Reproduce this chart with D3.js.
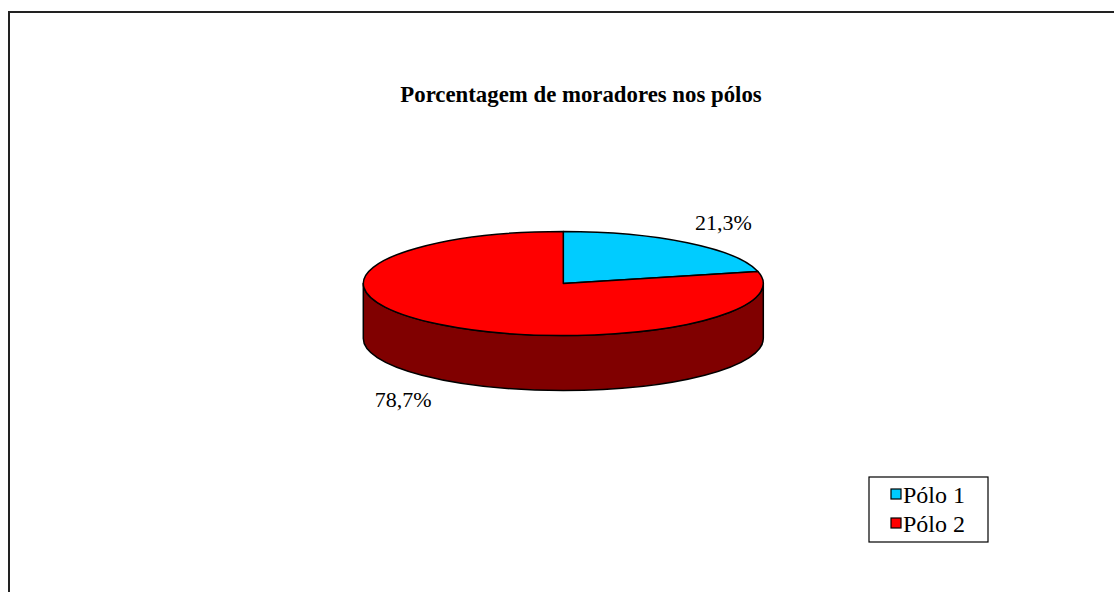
<!DOCTYPE html>
<html>
<head>
<meta charset="utf-8">
<script src="https://cdn.jsdelivr.net/npm/d3@7"></script>
<style>
  html, body { margin: 0; padding: 0; background: #fff; }
  svg { display: block; }
</style>
</head>
<body>
<script>
// dados do grafico
var categorias = ["Pólo 1", "Pólo 2"];
var valores = [21.3, 78.7];
var rotulos = ["21,3%", "78,7%"];
var cores = ["#00CCFF", "#FF0000"];
var coresLado = ["#006680", "#800000"];
var titulo = "Porcentagem de moradores nos pólos";

var width = 1114, height = 592;
var fonte = "'Liberation Serif', 'Times New Roman', serif";

// geometria da pizza 3D
var cx = 563.3, cy = 283.5, rx = 200, ry = 52, depth = 55;

var svg = d3.select("body").append("svg")
  .attr("width", width)
  .attr("height", height)
  .attr("font-family", fonte);

// moldura
svg.append("rect")
  .attr("x", 9).attr("y", 12)
  .attr("width", width + 20).attr("height", height + 20)
  .attr("fill", "#fff")
  .attr("stroke", "#222")
  .attr("stroke-width", 2);

svg.append("text")
  .attr("x", 581).attr("y", 102)
  .attr("text-anchor", "middle")
  .attr("font-weight", "bold")
  .attr("font-size", 22.8)
  .attr("font-family", fonte)
  .text(titulo);

var pie = d3.pie().sort(null).value(d => d);
var arcs = pie(valores);

// ponto na elipse, angulo a partir do topo em sentido horario
function pt(a, dz) {
  return [cx + rx * Math.sin(a), cy - ry * Math.cos(a) + (dz || 0)];
}

// lateral (somente a parte da frente, entre PI/2 e 3PI/2)
var g = svg.append("g");
arcs.forEach(function(d, i) {
  var a0 = Math.max(d.startAngle, Math.PI / 2);
  var a1 = Math.min(d.endAngle, 3 * Math.PI / 2);
  if (a1 <= a0) return;
  var p0 = pt(a0), p1 = pt(a1), q0 = pt(a0, depth), q1 = pt(a1, depth);
  var large = (a1 - a0) > Math.PI ? 1 : 0;
  g.append("path")
    .attr("d", "M" + p0 + "A" + rx + "," + ry + " 0 " + large + " 1 " + p1 +
      "L" + q1 + "A" + rx + "," + ry + " 0 " + large + " 0 " + q0 + "Z")
    .attr("fill", coresLado[i])
    .attr("stroke", "#000")
    .attr("stroke-width", 1.5)
    .attr("stroke-linejoin", "round");
});

// topo
arcs.forEach(function(d, i) {
  var p0 = pt(d.startAngle), p1 = pt(d.endAngle);
  var large = (d.endAngle - d.startAngle) > Math.PI ? 1 : 0;
  g.append("path")
    .attr("d", "M" + cx + "," + cy + "L" + p0 + "A" + rx + "," + ry + " 0 " + large + " 1 " + p1 + "Z")
    .attr("fill", cores[i])
    .attr("stroke", "#000")
    .attr("stroke-width", 1.5)
    .attr("stroke-linejoin", "round");
});

// rotulos de porcentagem
svg.append("g")
  .attr("font-size", 22)
  .attr("font-family", fonte)
  .attr("text-anchor", "middle")
  .selectAll("text")
  .data(arcs)
  .join("text")
    .attr("x", d => cx + 1.29 * rx * Math.sin((d.startAngle + d.endAngle) / 2))
    .attr("y", function(d) {
      var c = Math.cos((d.startAngle + d.endAngle) / 2);
      return cy - 1.5 * ry * c + (c < 0 ? depth : 0);
    })
    .attr("dy", "0.33em")
    .text((d, i) => rotulos[i]);

// legenda
var leg = svg.append("g").attr("transform", "translate(869,477)");
leg.append("rect")
  .attr("width", 119).attr("height", 65)
  .attr("fill", "#fff")
  .attr("stroke", "#000")
  .attr("stroke-width", 1.2);

var item = leg.selectAll("g")
  .data(categorias)
  .join("g")
    .attr("transform", (d, i) => "translate(22," + (12 + i * 29) + ")");

item.append("rect")
  .attr("width", 10).attr("height", 10)
  .attr("fill", (d, i) => cores[i])
  .attr("stroke", "#000")
  .attr("stroke-width", 1.2);

item.append("text")
  .attr("x", 12).attr("y", 13.5)
  .attr("font-size", 24)
  .attr("font-family", fonte)
  .text(d => d);
</script>
</body>
</html>
